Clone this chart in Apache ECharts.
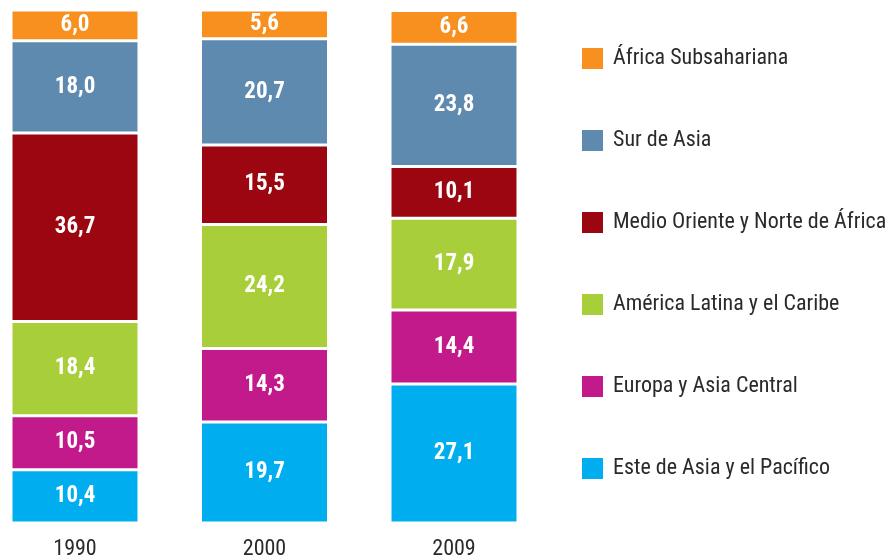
<!DOCTYPE html>
<html>
<head>
<meta charset="utf-8">
<script src="https://cdn.jsdelivr.net/npm/echarts@6/dist/echarts.min.js"></script>
<style>
  html, body { margin: 0; padding: 0; background: #fff; }
  #chart { width: 885px; height: 560px; }
</style>
</head>
<body>
<div id="chart"></div>
<script>
// años
const years = ['1990', '2000', '2009'];

// series, de abajo hacia arriba
const esteAsia = [10.4, 19.7, 27.1];
const europaAsiaCentral = [10.5, 14.3, 14.4];
const americaLatina = [18.4, 24.2, 17.9];
const medioOriente = [36.7, 15.5, 10.1];
const surAsia = [18.0, 20.7, 23.8];
const africaSub = [6.0, 5.6, 6.6];

const FONT = "'Roboto Condensed', 'Liberation Sans Narrow', 'DejaVu Sans Condensed', 'Roboto', sans-serif";

const seriesDefs = [
  { name: 'Este de Asia y el Pacífico', data: esteAsia, color: '#00AEEF' },
  { name: 'Europa y Asia Central', data: europaAsiaCentral, color: '#C2198B' },
  { name: 'América Latina y el Caribe', data: americaLatina, color: '#A8CE3A' },
  { name: 'Medio Oriente y Norte de África', data: medioOriente, color: '#9B0610' },
  { name: 'Sur de Asia', data: surAsia, color: '#5F8AB0' },
  { name: 'África Subsahariana', data: africaSub, color: '#F7901E' }
];

const chart = echarts.init(document.getElementById('chart'), null, { renderer: 'canvas' });

chart.setOption({
  animation: false,
  textStyle: { fontFamily: FONT },
  legend: {
    orient: 'vertical',
    left: 575,
    top: 41,
    itemWidth: 23,
    itemHeight: 23,
    itemGap: 57,
    icon: 'rect',
    data: seriesDefs.map(s => s.name).reverse(),
    textStyle: { fontFamily: FONT, fontSize: 22, color: '#2a2a2a', padding: [0, 0, 0, 4] }
  },
  grid: { left: 75, right: 431, top: 10, bottom: 34 },
  xAxis: {
    type: 'category',
    data: years,
    boundaryGap: false,
    axisLine: { show: false },
    axisTick: { show: false },
    axisLabel: { fontFamily: FONT, fontSize: 22, color: '#2a2a2a', margin: 15 }
  },
  yAxis: {
    type: 'value',
    min: 0,
    max: 100,
    show: false,
    splitLine: { show: false }
  },
  series: seriesDefs.map(s => ({
    name: s.name,
    type: 'bar',
    stack: 'total',
    barWidth: 128,
    clip: false,
    data: s.data,
    itemStyle: { color: s.color, borderColor: '#fff', borderWidth: 1.5 },
    label: {
      show: true,
      position: 'inside',
      color: '#fff',
      fontFamily: FONT,
      fontWeight: 'bold',
      fontSize: 23,
      formatter: p => p.value.toFixed(1).replace('.', ',')
    }
  }))
});
</script>
</body>
</html>
